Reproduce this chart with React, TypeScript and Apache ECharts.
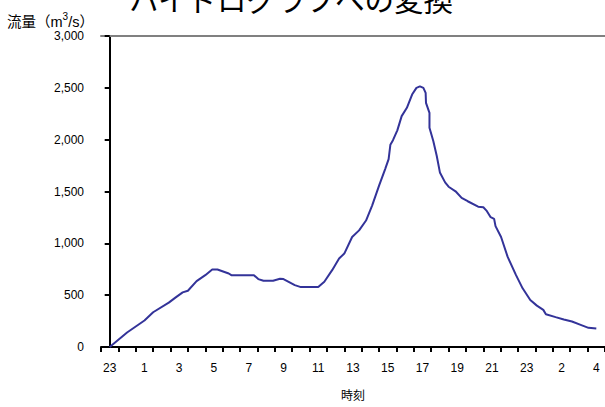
import React, { useEffect, useRef } from 'react';
import * as echarts from 'echarts';

// Hour labels for each category (one per hour)
const hourLabels = [
  '23', '0', '1', '2', '3', '4', '5', '6', '7', '8', '9', '10', '11', '12',
  '13', '14', '15', '16', '17', '18', '19', '20', '21', '22', '23', '1', '2', '3', '4',
];

// Elapsed time (in category units, 0 = first 23 o'clock)
const timeIdx = [
  0, 1, 2, 2.5, 3.4, 3.8, 4.2, 4.5, 5.0, 5.5, 5.9, 6.2, 6.85, 7.0, 8.3, 8.55, 8.85, 9.4,
  9.8, 10.0, 10.65, 11.0, 12.0, 12.35, 12.8, 13.2, 13.5, 13.95, 14.35, 14.75, 15.1, 15.5,
  15.85, 16.05, 16.15, 16.3, 16.55, 16.8, 17.1, 17.4, 17.65, 17.85, 18.05, 18.18, 18.2,
  18.4, 18.4, 18.62, 18.82, 19.0, 19.3, 19.5, 19.9, 20.25, 20.6, 21.2, 21.5, 21.68, 21.92,
  22.12, 22.2, 22.52, 22.9, 23.38, 23.76, 24.2, 24.58, 24.95, 25.1, 25.66, 26.13, 26.6,
  27.1, 27.55, 28.0,
];

// Flow (m3/s)
const flow = [
  0, 140, 256, 335, 428, 479, 527, 543, 636, 693, 748, 748, 709, 693, 693, 655, 639, 639,
  658, 655, 597, 578, 578, 630, 741, 853, 901, 1061, 1125, 1220, 1364, 1556,
  1716, 1812, 1950, 1995, 2090, 2227, 2307, 2435, 2500, 2514, 2499, 2451, 2355,
  2259, 2115, 1987, 1843, 1684, 1588, 1546, 1502, 1438, 1406, 1354, 1348, 1316, 1252,
  1236, 1166, 1061, 869, 693, 566, 453, 399, 358, 316, 288, 265, 246,
  214, 185, 178,
];

const yTicks = [0, 500, 1000, 1500, 2000, 2500, 3000];

const FONT = "'Liberation Sans', 'Noto Sans CJK JP', sans-serif";

export default function App() {
  const ref = useRef<HTMLDivElement>(null);

  useEffect(() => {
    const chart = echarts.init(ref.current!, null, { renderer: 'svg' });
    chart.setOption({
      animation: false,
      backgroundColor: '#ffffff',
      textStyle: { fontFamily: FONT },
      graphic: [
        {
          type: 'text',
          x: 291,
          y: -17,
          style: {
            text: 'ハイドログラフへの変換',
            fontSize: 29.5,
            fontFamily: "'Noto Sans CJK JP', sans-serif",
            fill: '#000',
            textAlign: 'center',
            textVerticalAlign: 'top',
          },
        },
        {
          type: 'text',
          x: 7,
          y: 11,
          style: {
            text: '{a|流量（m}{s|3}{a|/s）}',
            fontFamily: FONT,
            fill: '#000',
            textAlign: 'left',
            textVerticalAlign: 'top',
            rich: {
              a: { fontSize: 14.5, lineHeight: 18, fontFamily: FONT, fill: '#000', verticalAlign: 'bottom' },
              s: { fontSize: 10, lineHeight: 11, fontFamily: FONT, fill: '#000', verticalAlign: 'top' },
            },
          },
        },
      ],
      grid: { left: 101, top: 36, width: 509, height: 313 },
      xAxis: [
        {
          type: 'category',
          position: 'bottom',
          data: hourLabels,
          boundaryGap: true,
          axisLine: { show: true, lineStyle: { color: '#000', width: 2 } },
          axisTick: { show: true, interval: 0, length: 5, lineStyle: { color: '#000', width: 2 } },
          axisLabel: { interval: 1, fontSize: 12, color: '#000', margin: 15, fontFamily: FONT },
          splitLine: { show: false },
          name: '時刻',
          nameLocation: 'middle',
          nameGap: 43,
          nameTextStyle: { fontSize: 12, color: '#000', fontFamily: FONT },
        },
        {
          type: 'value',
          position: 'top',
          min: -0.5,
          max: 28.5,
          axisLine: { show: true, lineStyle: { color: '#808080', width: 2 } },
          axisTick: { show: false },
          axisLabel: { show: false },
          splitLine: { show: false },
        },
      ],
      yAxis: {
        type: 'value',
        min: yTicks[0],
        max: yTicks[yTicks.length - 1],
        interval: 500,
        axisLine: { show: true, lineStyle: { color: '#000', width: 2 } },
        axisTick: { show: true, length: 5, lineStyle: { color: '#000', width: 2 } },
        axisLabel: {
          fontSize: 12,
          color: '#000',
          margin: 17,
          fontFamily: FONT,
          formatter: (v: number) => v.toLocaleString('en-US'),
        },
        splitLine: { show: false },
      },
      series: [
        {
          type: 'line',
          xAxisIndex: 1,
          data: timeIdx.map((t, i) => [t, flow[i]]),
          showSymbol: false,
          smooth: false,
          lineStyle: { color: '#333399', width: 2 },
          itemStyle: { color: '#333399' },
        },
      ],
    });
    return () => chart.dispose();
  }, []);

  return (
    <div
      ref={ref}
      style={{ position: 'fixed', left: 0, top: 0, width: 605, height: 407, background: '#fff' }}
    />
  );
}
